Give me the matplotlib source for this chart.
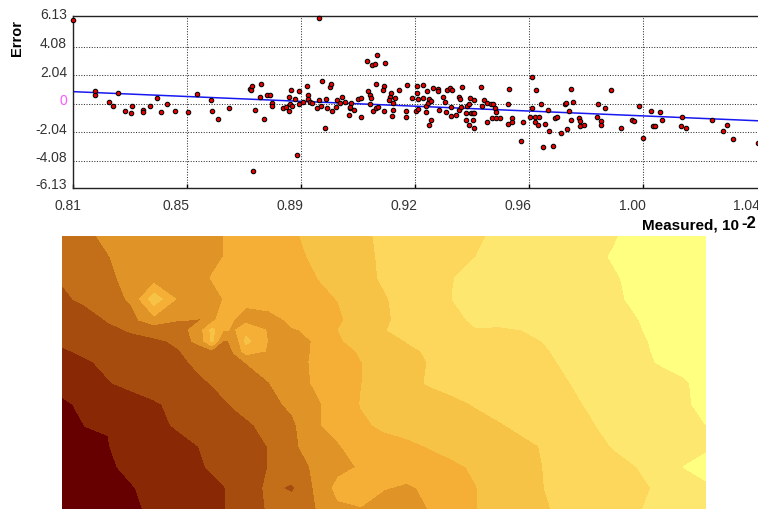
import matplotlib
matplotlib.use("Agg")
import matplotlib.pyplot as plt
from matplotlib.transforms import ScaledTranslation
import numpy as np

plt.rcParams['font.family'] = ['Liberation Sans', 'DejaVu Sans']

measured = [
0.8100,0.8920,0.8173,0.8173,0.8220,0.8232,0.8250,0.8272,0.8293,0.8298,0.8332,0.8332,0.8358,0.8380,0.8392,0.8414,0.8439,0.8482,
0.8512,0.8560,0.8564,0.8582,0.8620,0.8690,0.8693,0.8698,0.8707,0.8701,0.8728,0.8724,0.8737,0.8746,0.8758,0.8762,0.8762,0.8801,
0.8810,0.8819,0.8819,0.8823,0.8827,0.8831,0.8840,0.8848,0.8853,0.8853,0.8866,0.8879,0.8882,0.8882,0.8890,0.8896,0.8912,0.8921,
0.8926,0.8930,0.8939,0.8943,0.8948,0.8956,0.8960,0.8964,0.8981,0.8977,0.8990,0.8998,0.9005,0.9020,0.9024,0.9028,0.9024,0.9037,
0.9050,0.9059,0.9059,0.9081,0.9089,0.9084,0.9089,0.9093,0.9098,0.9106,0.9114,0.9110,0.9101,0.9110,0.9118,
0.9141,0.9136,0.9132,0.9161,0.9158,0.9153,0.9174,0.9167,0.9188,0.9214,0.9167,0.9162,0.9137,0.9210,0.9210,0.9231,0.9248,0.9248,
0.9249,0.9242,0.9249,0.9267,0.9266,0.9279,0.9275,0.9275,0.9283,0.9288,0.9292,0.9288,0.9292,0.9301,0.9318,0.9318,0.9334,0.9339,
0.9321,0.9343,0.9348,0.9356,0.9364,0.9360,0.9360,0.9378,0.9387,0.9390,0.9396,0.9386,0.9394,0.9412,0.9421,0.9424,0.9438,0.9411,
0.9426,0.9433,0.9438,0.9411,0.9433,0.9420,0.9438,0.9460,0.9463,0.9471,0.9480,0.9481,0.9492,0.9500,0.9506,0.9510,0.9497,0.9510,
0.9524,0.9550,0.9554,0.9550,0.9563,0.9563,0.9592,0.9601,0.9622,0.9631,0.9640,0.9653,0.9640,0.9649,0.9631,0.9644,0.9661,0.9667,
0.9674,0.9683,0.9688,0.9700,0.9706,0.9713,0.9727,0.9739,0.9744,0.9748,0.9752,0.9761,0.9761,0.9766,0.9787,0.9791,0.9791,0.9803,
0.9847,0.9851,0.9859,0.9859,0.9872,0.9894,0.9925,0.9962,0.9970,0.9985,1.0001,1.0028,1.0032,1.0041,1.0058,1.0062,1.0127,1.0131,
1.0143,1.0229,1.0265,1.0281,1.0299,1.0383]
error = [
6.00,6.15,0.90,0.62,0.14,-0.14,0.79,-0.50,-0.69,-0.14,-0.43,-0.62,-0.14,0.43,-0.62,-0.05,-0.52,-0.62,
0.69,0.24,-0.52,-1.07,-0.33,1.05,0.95,1.24,-0.43,-4.79,1.43,0.50,-1.07,0.60,0.60,0.05,-0.14,-0.33,
-0.24,0.50,-0.52,-0.05,0.98,-0.14,0.33,-3.67,0.88,-0.05,0.14,1.24,0.60,0.31,0.14,0.05,-0.33,0.24,
-0.14,1.62,-1.71,0.33,-0.33,1.17,1.43,-0.52,0.24,-0.24,0.05,0.50,0.14,-0.79,-0.29,0.05,-0.24,-0.43,
0.33,0.43,-0.98,3.02,-0.05,0.88,0.60,0.43,2.74,2.83,3.48,1.43,-0.50,-0.33,-0.24,
2.93,1.24,1.00,0.79,0.50,0.24,0.43,0.05,1.00,1.36,-0.43,-0.88,-0.52,-0.50,-0.98,0.43,1.26,0.79,
0.33,-0.50,-0.40,1.36,0.43,0.88,-0.14,-0.60,0.05,0.33,0.19,-1.52,-1.14,1.10,1.05,0.90,0.50,0.14,
-0.43,-0.60,1.00,1.10,1.00,-0.24,-0.88,-0.79,0.50,0.33,1.17,-0.43,-0.26,-0.14,-0.02,0.43,0.24,-0.69,
-0.69,-0.69,-0.69,-1.14,-1.14,-1.52,-1.71,1.17,-0.14,0.24,0.05,-1.33,-0.05,-0.05,-0.33,-0.62,-1.05,-1.05,
-1.05,-0.05,1.07,-1.43,-1.05,-1.33,-2.64,-1.33,-0.95,-0.33,-0.95,-0.95,-1.33,-1.52,1.90,1.00,-0.05,-3.10,
-1.43,-0.43,-1.98,-3.00,-1.05,-0.95,-2.07,-0.05,0.05,-1.81,-0.52,-1.14,1.07,0.14,-1.05,-1.24,-1.62,-1.52,
-0.95,-0.05,-1.24,-1.52,-0.33,1.00,-1.71,-1.14,-1.24,-0.14,-2.45,-0.52,-1.62,-1.62,-0.60,-1.14,-1.62,-0.95,
-1.71,-1.14,-1.98,-1.52,-2.55,-2.83]

trend_x = [0.81, 1.0383]
trend_y = [0.86, -1.22]

x_tick_values = [0.81, 0.848, 0.886, 0.924, 0.962, 1.0, 1.038]
x_tick_labels = ['0.81', '0.85', '0.89', '0.92', '0.96', '1.00', '1.04']
y_tick_values = [6.13, 4.08, 2.04, 0, -2.04, -4.08, -6.0]
y_tick_labels = ['6.13', '4.08', '2.04', '0', '-2.04', '-4.08', '-6.13']

grid_x = [62,85,108,131,154,177,200,212,223,234,246,269,292,315,338,361,384,407,430,453,476,499,522,545,568,591,614,637,660,683,706]
grid_y = [237,258,279,300,321,331,342,352,363,384,405,426,447,468,489,510]
field = [
[3.7,3.9,4.1,4.28,4.46,4.65,4.83,4.92,5.0,5.15,5.3,5.6,5.9,6.2,6.55,6.87,7.12,7.32,7.52,7.72,7.92,8.1,8.27,8.44,8.6,8.78,8.95,9.2,9.3,9.4,9.5],
[3.5,3.8,3.98,4.19,4.39,4.6,4.8,4.9,5.0,5.15,5.28,5.55,5.81,6.1,6.46,6.82,7.1,7.33,7.56,7.78,8.0,8.18,8.35,8.51,8.68,8.85,9.05,9.2,9.3,9.4,9.5],
[3.1,3.5,3.9,4.15,4.4,4.65,4.9,5.02,5.12,5.22,5.33,5.54,5.75,5.96,6.33,6.74,7.1,7.4,7.7,7.99,8.13,8.26,8.4,8.53,8.67,8.8,8.94,9.15,9.3,9.4,9.5],
[2.8,3.22,3.68,4.1,6.6,4.9,4.77,4.88,5.0,5.1,5.2,5.4,5.6,5.8,6.02,6.45,6.92,7.3,7.67,8.01,8.14,8.27,8.4,8.53,8.65,8.78,8.91,9.1,9.25,9.4,9.5],
[2.3,2.5,3.07,3.7,4.6,4.05,3.95,4.6,5.8,5.0,4.7,4.7,5.14,5.5,5.87,6.35,6.88,7.24,7.55,7.85,8.1,8.2,8.3,8.4,8.5,8.65,8.8,8.98,9.2,9.35,9.45],
[2.2,2.4,2.75,3.1,3.3,3.4,4.6,6.3,5.1,4.9,5.6,4.9,4.95,5.1,6.0,6.55,6.95,7.3,7.55,7.8,7.97,7.9,8.0,8.2,8.4,8.6,8.75,8.93,9.2,9.35,9.45],
[2.15,2.3,2.5,2.7,2.88,3.1,4.5,6.2,3.9,4.1,6.3,4.9,4.5,5.1,5.9,6.3,6.67,7.03,7.18,7.33,7.49,7.62,7.82,8.03,8.25,8.45,8.65,8.85,9.15,9.3,9.45],
[1.9,2.15,2.35,2.55,2.75,2.95,3.3,3.7,3.7,4.05,5.5,4.9,4.6,5.1,5.65,6.1,6.5,6.85,7.1,7.27,7.43,7.6,7.78,7.95,8.17,8.4,8.6,8.85,9.1,9.3,9.45],
[1.65,1.9,2.18,2.4,2.62,2.85,3.15,3.39,3.6,3.8,4.02,4.37,4.72,5.1,5.55,5.98,6.35,6.72,7.04,7.21,7.38,7.55,7.72,7.9,8.09,8.33,8.56,8.8,9.05,9.3,9.45],
[1.3,1.7,1.95,2.2,2.42,2.66,2.9,3.03,3.22,3.4,3.6,3.98,4.56,5.1,5.55,5.98,6.4,6.8,7.07,7.23,7.38,7.53,7.68,7.83,7.98,8.16,8.34,8.52,8.7,8.88,9.3],
[0.85,1.18,1.42,1.66,1.9,2.2,2.55,2.73,2.9,3.08,3.3,3.72,4.2,4.82,5.45,6.03,6.24,6.44,6.65,6.85,7.05,7.26,7.46,7.66,7.87,8.07,8.27,8.47,8.68,8.88,9.2],
[0.5,1.02,1.02,1.5,1.8,2.08,2.34,2.48,2.6,2.73,2.86,3.26,3.8,4.85,5.4,5.88,6.12,6.28,6.45,6.61,6.77,6.94,7.16,7.43,7.69,7.95,8.2,8.4,8.55,8.65,9.0],
[0.3,0.7,0.98,1.25,1.5,1.75,2.02,2.19,2.35,2.5,2.68,3.03,3.83,4.4,4.9,5.6,5.75,5.85,6.05,6.25,6.44,6.64,6.84,7.06,7.37,7.73,8.05,8.3,8.45,8.55,8.8],
[0.2,0.6,0.9,1.15,1.42,1.67,1.93,2.08,2.26,2.44,2.64,3.02,3.57,4.13,4.7,5.09,5.29,5.48,5.67,5.87,6.1,6.41,6.72,7.03,7.33,7.52,7.76,8.0,8.3,9.0,9.4],
[0.1,0.45,0.75,0.95,1.2,1.45,1.7,1.83,1.95,2.15,2.45,3.2,2.85,4.1,5.3,5.15,5.05,4.85,5.2,5.55,5.98,6.33,6.67,7.01,7.22,7.43,7.64,7.85,8.1,8.45,8.8],
[0.05,0.35,0.65,0.9,1.1,1.4,1.65,1.75,1.95,2.2,2.5,3.1,3.5,3.95,4.8,4.98,4.5,4.1,5.1,5.55,5.98,6.3,6.62,6.93,7.2,7.47,7.72,7.95,8.15,8.35,8.5],
]
band_levels = [0,1,2,3,4,5,6,7,8,9,10]
band_colors = ['#660000','#882805','#A54C0E','#C36E18','#E09428','#F5AE36','#F7C346','#FDD65C','#FEE76E','#FFFF80']

W, H = 758, 510
fig = plt.figure(figsize=(W/100, H/100), dpi=100, facecolor='white')

def px_offset(dx, dy):
    return ScaledTranslation(dx/100, dy/100, fig.dpi_scale_trans)

ax = fig.add_axes([73/W, (H-189)/H, (758-73)/W, (189-17.3)/H])
ax.set_xlim(0.81, 0.81 + 685/3000)
ax.set_ylim(-6.02, 6.24)
ax.spines['right'].set_visible(False)
for s in ('top', 'left', 'bottom'):
    ax.spines[s].set_linewidth(1.0)
    ax.spines[s].set_color('#222222')

ax.set_xticks(x_tick_values, x_tick_labels)
ax.set_yticks(y_tick_values, y_tick_labels)
ax.tick_params(axis='x', direction='in', length=3.2, width=1.0, pad=7, labelsize=10, labelcolor='#333333')
ax.tick_params(axis='y', length=0, pad=4.3, labelsize=10, labelcolor='#333333')
ax.grid(True, color='#333333', linestyle=(0, (1, 1.5)), linewidth=0.75)
ax.set_axisbelow(True)

x_ticks = ax.xaxis.get_major_ticks()
for i, t in enumerate(x_ticks):
    t.label1.set_ha('right')
    t.label1.set_transform(t.label1.get_transform() + px_offset(8 if i == 0 else 2.5, 0))
    if i == 0 or i == len(x_ticks) - 1:
        t.gridline.set_visible(False)
    if i == len(x_ticks) - 1:
        t.tick1line.set_visible(False)
for i, t in enumerate(ax.yaxis.get_major_ticks()):
    t.label1.set_transform(t.label1.get_transform() + px_offset(0, 5))
    if i in (0, len(y_tick_values) - 1):
        t.gridline.set_visible(False)
    if y_tick_labels[i] == '0':
        t.label1.set_color('#FF55FF')

ax.plot(trend_x, trend_y, color='#1818F0', lw=1.1, zorder=2)
ax.scatter(measured, error, s=10.5, c='#E80000', edgecolors='black', linewidths=0.75, zorder=3, clip_on=False)

fig.text(17/W, 1-38/H, 'Error', rotation=90, ha='center', va='center', fontsize=10.5, fontweight='bold', color='black')
fig.text(642/W, 1-226/H, 'Measured, 10', ha='left', va='center', fontsize=11, fontweight='bold', color='black')
fig.text(741/W, 1-223/H, '-2', ha='left', va='center', fontsize=12, fontweight='bold', color='black')

mp = fig.add_axes([62/W, 0, 644/W, 273/H])
mp.contourf(grid_x, grid_y, np.array(field), levels=band_levels, colors=band_colors, antialiased=False)
mp.set_xlim(62, 706)
mp.set_ylim(510, 237)
mp.axis('off')

fig.savefig('out.png', dpi=100, facecolor='white')
